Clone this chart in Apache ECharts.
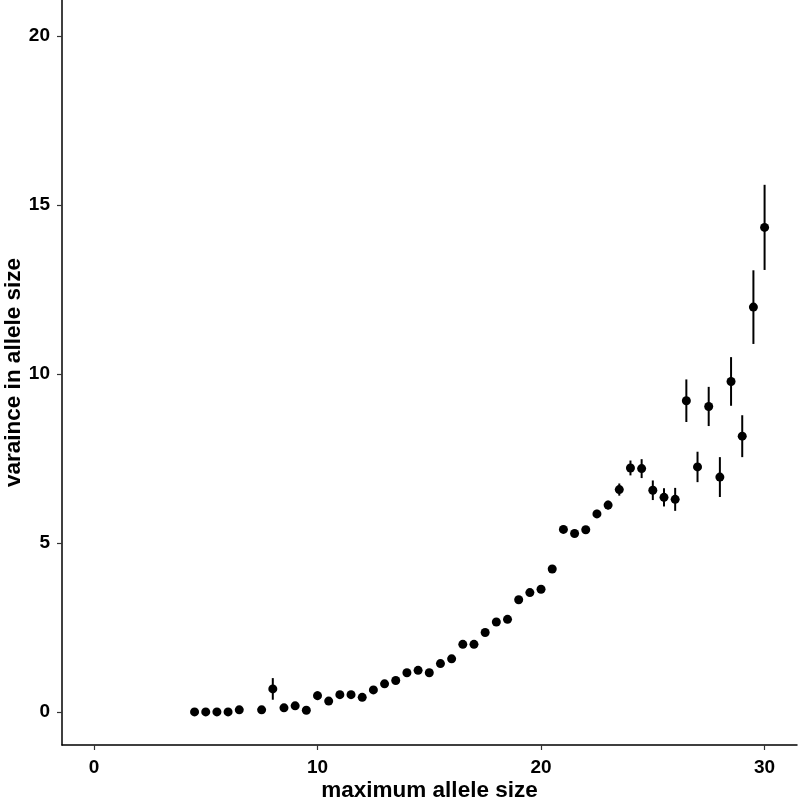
<!DOCTYPE html>
<html><head><meta charset="utf-8">
<script src="https://cdn.jsdelivr.net/npm/echarts@6/dist/echarts.min.js"></script>
<style>html,body{margin:0;padding:0;background:#fff}#c{width:800px;height:801px}</style>
</head><body><div id="c"></div>
<script>
var xs = [4.5,5,5.5,6,6.5,7.5,8,8.5,9,9.5,10,10.5,11,11.5,12,12.5,13,13.5,14,14.5,15,15.5,16,16.5,17,17.5,18,18.5,19,19.5,20,20.5,21,21.5,22,22.5,23,23.5,24,24.5,25,25.5,26,26.5,27,27.5,28,28.5,29,29.5,30];
var ys = [0,0,0,0,0.06,0.06,0.68,0.12,0.18,0.05,0.48,0.32,0.51,0.51,0.43,0.65,0.83,0.93,1.16,1.23,1.16,1.43,1.57,2.0,2.0,2.35,2.66,2.74,3.32,3.53,3.63,4.23,5.40,5.28,5.39,5.86,6.12,6.58,7.22,7.2,6.56,6.35,6.29,9.21,7.25,9.04,6.95,9.78,8.16,11.98,14.34];
var errs = [0,0,0,0,0.02,0.03,0.32,0.04,0.05,0.03,0.13,0.06,0.06,0.06,0.06,0.06,0.06,0.06,0.07,0.07,0.07,0.07,0.08,0.08,0.08,0.08,0.08,0.08,0.09,0.09,0.09,0.1,0.11,0.1,0.11,0.12,0.13,0.18,0.22,0.28,0.29,0.27,0.34,0.63,0.45,0.58,0.59,0.72,0.62,1.09,1.26];
var xTicks = [0,10,20,30];
var yTicks = [0,5,10,15,20];

var pts = xs.map(function(x,i){return [x, ys[i]];});
var bars = xs.map(function(x,i){return [x, ys[i]-errs[i], ys[i]+errs[i]];});
var font = '"Liberation Sans", Arial, Helvetica, sans-serif';
var chart = echarts.init(document.getElementById('c'));
chart.setOption({
  animation: false,
  grid: {left: 62, right: 3, top: 0, bottom: 56, containLabel: false, outerBoundsMode: 'none'},
  xAxis: {
    type: 'value', min: -1.43, max: 31.45,
    axisLine: {onZero: false, lineStyle: {color: '#000', width: 1.5}},
    axisTick: {show: true, length: 5, lineStyle: {color: '#333', width: 1.2},
      customValues: xTicks},
    axisLabel: {color: '#000', fontSize: 19, fontWeight: 'bold', fontFamily: font, margin: 13,
      customValues: xTicks},
    splitLine: {show: false},
    name: 'maximum allele size', nameLocation: 'middle', nameGap: 34, nameMoveOverlap: false,
    nameTextStyle: {color: '#000', fontSize: 22.5, fontWeight: 'bold', fontFamily: font}
  },
  yAxis: {
    type: 'value', min: -0.98, max: 21.07,
    axisLine: {onZero: false, lineStyle: {color: '#000', width: 1.5}},
    axisTick: {show: true, length: 5, lineStyle: {color: '#333', width: 1.2},
      customValues: yTicks},
    axisLabel: {color: '#000', fontSize: 19, fontWeight: 'bold', fontFamily: font, margin: 12,
      customValues: yTicks},
    splitLine: {show: false},
    name: 'varaince in allele size', nameLocation: 'middle', nameGap: 37, nameMoveOverlap: false,
    nameTextStyle: {color: '#000', fontSize: 22.5, fontWeight: 'bold', fontFamily: font}
  },
  series: [
    {
      type: 'custom',
      data: bars,
      renderItem: function(params, api){
        var p1 = api.coord([api.value(0), api.value(1)]);
        var p2 = api.coord([api.value(0), api.value(2)]);
        return {type: 'line', shape: {x1: p1[0], y1: p1[1], x2: p2[0], y2: p2[1]},
          style: {stroke: '#000', lineWidth: 2}};
      },
      encode: {x: 0, y: [1, 2]},
      z: 2
    },
    {
      type: 'scatter', data: pts, symbol: 'circle', symbolSize: 9,
      itemStyle: {color: '#000', opacity: 1}, z: 3
    }
  ]
});
</script></body></html>
